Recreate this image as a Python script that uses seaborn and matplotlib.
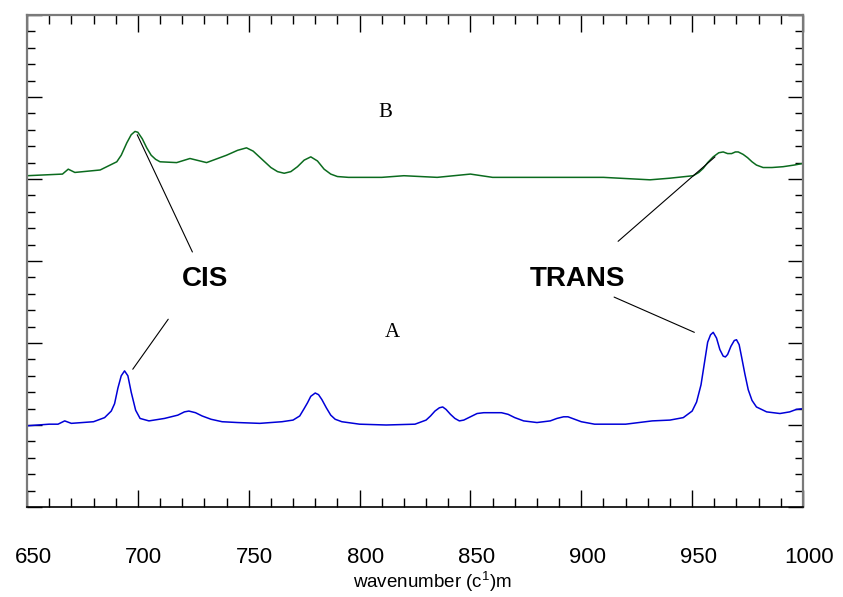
import numpy as np
import pandas as pd
import matplotlib
matplotlib.use("Agg")
import matplotlib.pyplot as plt
import matplotlib.transforms as mtransforms
from matplotlib.ticker import MultipleLocator
import seaborn as sns

# spectrum A (lower, blue) and B (upper, green)
wn_a = [650, 660, 664, 667, 670, 680, 685, 688, 689.5, 691, 692.5, 694, 695.5, 697, 699, 701, 705,
        712, 718, 721, 723, 726, 729, 733, 738, 745, 755, 765, 770, 773, 775, 776.5, 778, 780,
        781.5, 783, 785, 787, 789, 792,
        800, 812, 825, 830, 832, 834, 836, 837.5, 839, 841, 843, 845, 847, 850, 853, 856, 864,
        867, 870, 874, 880,
        886, 889, 892, 894, 897, 900, 906, 920, 932, 940, 946, 950, 952, 954, 955.5, 957, 958.3,
        959.5, 961, 962.5, 964, 965, 966, 967.5, 969, 970, 971.2, 972.3, 973.8, 975.3, 977, 979,
        983.6, 989.6, 994, 997, 1000]
abs_a = [0.99, 1.01, 1.01, 1.05, 1.02, 1.04, 1.09, 1.17, 1.26, 1.45, 1.60, 1.66, 1.60, 1.40, 1.18, 1.08, 1.05,
         1.08, 1.12, 1.16, 1.17, 1.15, 1.11, 1.07, 1.04, 1.03, 1.02, 1.04, 1.06, 1.11, 1.20, 1.27, 1.35, 1.39,
         1.37, 1.31, 1.21, 1.12, 1.07, 1.04,
         1.01, 1.00, 1.01, 1.06, 1.11, 1.17, 1.21, 1.22, 1.19, 1.13, 1.08, 1.05, 1.06, 1.10, 1.14, 1.15, 1.15,
         1.13, 1.09, 1.05, 1.03,
         1.05, 1.08, 1.10, 1.10, 1.07, 1.04, 1.01, 1.01, 1.05, 1.06, 1.09, 1.17, 1.28, 1.49, 1.75, 2.01, 2.10,
         2.13, 2.06, 1.92, 1.84, 1.83, 1.86, 1.96, 2.03, 2.04, 1.98, 1.83, 1.62, 1.43, 1.30, 1.22,
         1.16, 1.14, 1.16, 1.19, 1.20]

wn_b = [650, 666, 668.6, 671.6, 683, 690.5, 692.5, 695, 697, 698.7, 700, 702, 704, 706, 708, 710, 717.5, 723.5, 731,
        735, 740, 745, 749, 752, 756, 760, 763, 766, 769, 772, 775, 778, 781, 784, 787, 790, 795, 810, 820,
        835, 850, 860, 880, 910,
        931, 940, 950.5, 953, 955, 957, 959.5, 962, 964, 966, 967.8, 969.5, 970.8, 973, 975, 977, 979, 982,
        986, 991, 996, 1000]
abs_b = [4.04, 4.06, 4.12, 4.08, 4.11, 4.21, 4.29, 4.44, 4.54, 4.58, 4.57, 4.49, 4.38, 4.29, 4.24, 4.21, 4.20, 4.25, 4.20,
         4.24, 4.29, 4.35, 4.38, 4.34, 4.24, 4.14, 4.09, 4.07, 4.09, 4.15, 4.23, 4.27, 4.22, 4.12, 4.06, 4.03, 4.02, 4.02, 4.04,
         4.02, 4.06, 4.02, 4.02, 4.02,
         3.99, 4.01, 4.04, 4.08, 4.13, 4.20, 4.27, 4.32, 4.33, 4.31, 4.31, 4.33, 4.33, 4.30, 4.26, 4.21, 4.17, 4.14,
         4.14, 4.15, 4.17, 4.19]

x_ticks = [650, 700, 750, 800, 850, 900, 950, 1000]

sns.set_style("ticks")
plt.rcParams['font.family'] = ['Liberation Sans', 'DejaVu Sans']
plt.rcParams['text.color'] = 'black'
plt.rcParams['xtick.color'] = 'black'
plt.rcParams['ytick.color'] = 'black'

fig = plt.figure(figsize=(8.43, 5.97), dpi=100)
ax = fig.add_axes([27/843, 1 - 507/597, 776/843, 492/597])

df_a = pd.DataFrame({'wn': wn_a, 'y': abs_a})
df_b = pd.DataFrame({'wn': wn_b, 'y': abs_b})
sns.lineplot(data=df_a, x='wn', y='y', color='#0000d8', lw=1.1, estimator=None, sort=False, ax=ax)
sns.lineplot(data=df_b, x='wn', y='y', color='#0b6b1e', lw=1.1, estimator=None, sort=False, ax=ax)

# callout lines
ax.plot([699.7, 724.6], [4.54, 3.11], color='black', lw=0.8)
ax.plot([713.7, 697.7], [2.29, 1.68], color='black', lw=0.8)
ax.plot([916.6, 960.3], [3.24, 4.27], color='black', lw=0.8)
ax.plot([914.8, 951.0], [2.56, 2.13], color='black', lw=0.8)

ax.text(730.3, 2.78, 'CIS', fontsize=20, fontweight='bold', ha='center', va='center')
ax.text(898.1, 2.78, 'TRANS', fontsize=20, fontweight='bold', ha='center', va='center')
ax.text(811.6, 4.81, 'B', fontsize=15, family=['Liberation Serif'], ha='center', va='center')
ax.text(814.6, 2.13, 'A', fontsize=15, family=['Liberation Serif'], ha='center', va='center')

ax.set_xlim(650, 1000)
ax.set_ylim(0, 6)
ax.set_xticks(x_ticks)
ax.xaxis.set_minor_locator(MultipleLocator(10))
ax.yaxis.set_major_locator(MultipleLocator(1))
ax.yaxis.set_minor_locator(MultipleLocator(0.2))
ax.tick_params(which='both', direction='in', top=True, right=True, colors='black', width=1.0)
ax.tick_params(which='major', axis='x', length=12, labelsize=16, pad=29)
ax.tick_params(which='minor', axis='x', length=6.5)
ax.tick_params(which='major', axis='y', length=10.5, labelleft=False)
ax.tick_params(which='minor', axis='y', length=5.5)
ax.set_xlabel('')
ax.set_ylabel('')

offset = mtransforms.ScaledTranslation(0.06, 0, fig.dpi_scale_trans)
for lab in ax.get_xticklabels():
    lab.set_transform(lab.get_transform() + offset)

for side in ['left', 'right', 'top']:
    ax.spines[side].set_color('#7a7a7a')
    ax.spines[side].set_linewidth(1.6)
ax.spines['bottom'].set_color('black')
ax.spines['bottom'].set_linewidth(1.2)

# axis title, with the superscript squeezed in as in the picture
fig.text(511.7/843, 1 - 588/597, r'wavenumber (c$^{\mathregular{1}}$)m', fontsize=13.5,
         ha='right', va='baseline')

fig.savefig('out.png', dpi=100)
